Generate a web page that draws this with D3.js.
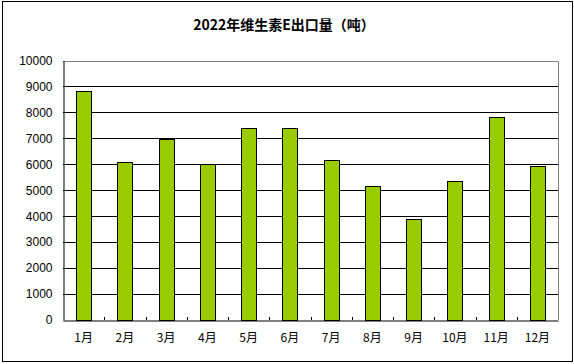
<!DOCTYPE html>
<html>
<head>
<meta charset="utf-8">
<script src="https://d3js.org/d3.v7.min.js"></script>
<style>
    body { margin: 0; background: #fff; }
    text { font-family: "Noto Sans CJK SC", "DejaVu Sans", sans-serif; }
</style>
</head>
<body>
<svg id="chart" width="574" height="364"></svg>
<script>
    const months = ["1月","2月","3月","4月","5月","6月","7月","8月","9月","10月","11月","12月"];
    const exports = [8830, 6070, 6970, 6030, 7410, 7410, 6180, 5180, 3910, 5370, 7830, 5950];
    const yTicks = [0, 1000, 2000, 3000, 4000, 5000, 6000, 7000, 8000, 9000, 10000];
    const title = "2022年维生素E出口量（吨）";

    const svg = d3.select("svg#chart");
    const margin = {top: 60.5, right: 16, bottom: 44, left: 63};
    const width = +svg.attr("width");
    const height = +svg.attr("height");

    // outer frame
    svg.append("rect")
       .attr("x", 2.5).attr("y", 1.5)
       .attr("width", 570).attr("height", 360)
       .attr("fill", "white").attr("stroke", "black").attr("stroke-width", 1);

    svg.append("text")
       .attr("x", 284).attr("y", 29.5)
       .attr("text-anchor", "middle")
       .style("font-size", "14px").style("font-weight", "bold")
       .text(title);

    const x = d3.scaleBand().domain(months)
                .range([margin.left, width - margin.right]);
    const y = d3.scaleLinear().domain([0, 10000])
                .range([height - margin.bottom, margin.top]);

    // gridlines
    svg.append("g").selectAll("line").data(yTicks.filter(d => d > 0))
       .join("line")
       .attr("x1", margin.left).attr("x2", width - margin.right)
       .attr("y1", d => Math.round(y(d)) + 0.5).attr("y2", d => Math.round(y(d)) + 0.5)
       .attr("stroke", d => d === 10000 ? "#808080" : "black");

    // right edge of plot
    svg.append("line")
       .attr("x1", width - margin.right + 0.5).attr("x2", width - margin.right + 0.5)
       .attr("y1", Math.round(y(10000)) + 0.5).attr("y2", y(0))
       .attr("stroke", "#808080");

    // bars
    const bw = x.bandwidth() * 0.36;
    svg.append("g").selectAll("rect").data(exports)
       .join("rect")
       .attr("x", (d, i) => Math.round(x(months[i]) + x.bandwidth() / 2 - bw / 2) + 0.5)
       .attr("y", d => Math.round(y(d)) + 0.5)
       .attr("width", Math.round(bw))
       .attr("height", d => Math.round(y(0)) - Math.round(y(d)))
       .attr("fill", "#99CC00")
       .attr("stroke", "black");

    // y axis
    const leftAxis = d3.axisLeft(y).tickValues(yTicks).tickFormat(d3.format("d"))
                       .tickSize(0).tickPadding(11);
    const ya = svg.append("g")
       .attr("transform", `translate(${margin.left + 0.5},0)`)
       .call(leftAxis);
    ya.select(".domain").attr("stroke", "black");
    ya.selectAll("text").style("font-size", "12px")
      .style("font-family", "'Liberation Sans', sans-serif").attr("fill", "black");

    // x axis
    const bottomAxis = d3.axisBottom(x).tickSize(0).tickPadding(13);
    const xa = svg.append("g")
       .attr("transform", `translate(0,${Math.round(y(0)) + 0.5})`)
       .call(bottomAxis);
    xa.select(".domain").attr("stroke", "black");
    xa.selectAll("text").style("font-size", "12px").attr("fill", "black");

    // inside tick marks at category boundaries
    svg.append("g").selectAll("line").data(months.slice(1))
       .join("line")
       .attr("x1", d => Math.round(x(d)) + 0.5).attr("x2", d => Math.round(x(d)) + 0.5)
       .attr("y1", Math.round(y(0))).attr("y2", Math.round(y(0)) - 3)
       .attr("stroke", "black");
</script>
</body>
</html>
